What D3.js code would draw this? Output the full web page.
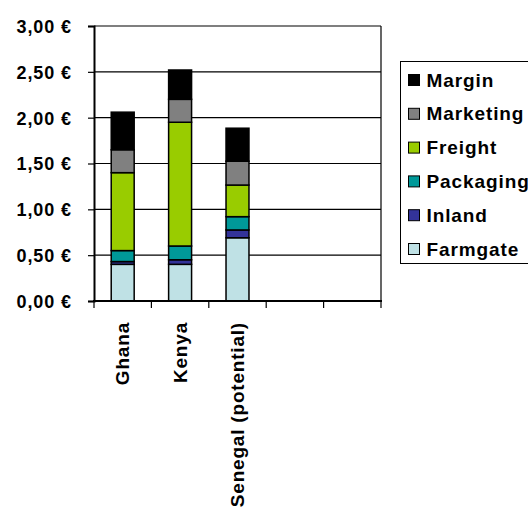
<!DOCTYPE html>
<html><head><meta charset="utf-8">
<script src="https://cdn.jsdelivr.net/npm/d3@7"></script>
<style>body{margin:0;background:#fff}svg{display:block}text{font-family:"Liberation Sans",Arial,sans-serif;font-weight:bold;fill:#000}</style>
</head><body>
<script>
const categories = ["Ghana", "Kenya", "Senegal (potential)", "", ""];
const seriesNames = ["Farmgate", "Inland", "Packaging", "Freight", "Marketing", "Margin"];
const farmgate  = [0.40, 0.40, 0.69];
const inland    = [0.03, 0.05, 0.085];
const packaging = [0.12, 0.15, 0.145];
const freight   = [0.85, 1.35, 0.345];
const marketing = [0.25, 0.25, 0.26];
const margin    = [0.41, 0.32, 0.36];
const yTicks = [0, 0.5, 1, 1.5, 2, 2.5, 3];
const yTickLabels = ["0,00 €", "0,50 €", "1,00 €", "1,50 €", "2,00 €", "2,50 €", "3,00 €"];
const colors = ["#BFE1E5", "#333399", "#009999", "#99CC00", "#808080", "#000000"];

const seriesValues = [farmgate, inland, packaging, freight, marketing, margin];
const W = 528, H = 509;
const svg = d3.select("body").append("svg").attr("width", W).attr("height", H);

const x = d3.scaleBand().domain(d3.range(categories.length)).range([94, 381]);
const y = d3.scaleLinear().domain([0, 3]).range([301, 26]);

// gridlines
svg.append("g").selectAll("line").data(yTicks.slice(1)).join("line")
  .attr("x1", 94).attr("x2", 381)
  .attr("y1", d => y(d)).attr("y2", d => y(d))
  .attr("stroke", "#000").attr("stroke-width", 1.2);
// right border
svg.append("line").attr("x1", 381).attr("x2", 381).attr("y1", 26).attr("y2", 301)
  .attr("stroke", "#000").attr("stroke-width", 1.2);

// stacked bars
const rows = d3.range(3).map(i => {
  const o = {idx: i};
  seriesNames.forEach((s, k) => o[s] = seriesValues[k][i]);
  return o;
});
const stack = d3.stack().keys(seriesNames)(rows);
const barW = x.bandwidth() * 0.4;
stack.forEach((layer, k) => {
  svg.append("g").selectAll("rect").data(layer).join("rect")
    .attr("x", d => x(d.data.idx) + (x.bandwidth() - barW) / 2)
    .attr("width", barW)
    .attr("y", d => y(d[1]))
    .attr("height", d => y(d[0]) - y(d[1]))
    .attr("fill", colors[k])
    .attr("stroke", "#000").attr("stroke-width", 1.5);
});

// y axis
const yAxis = svg.append("g").attr("transform", "translate(94,0)")
  .call(d3.axisLeft(y).tickValues(yTicks).tickSize(6).tickPadding(16)
    .tickFormat((d, i) => yTickLabels[i]));
yAxis.select(".domain").attr("stroke-width", 2);
yAxis.selectAll(".tick line").attr("stroke-width", 1.2);
yAxis.selectAll("text").attr("font-size", 18).attr("font-family", "Liberation Sans, Arial, sans-serif")
  .attr("font-weight", "bold").style("letter-spacing", "0.9px").attr("dy", "0.36em");

// x axis
const xAxis = svg.append("g").attr("transform", "translate(0,301)");
xAxis.append("line").attr("x1", 93).attr("x2", 382).attr("stroke", "#000").attr("stroke-width", 2);
const bounds = d3.range(categories.length + 1).map(i => 94 + i * x.step());
xAxis.selectAll(".xt").data(bounds).join("line").attr("class", "xt")
  .attr("x1", d => d).attr("x2", d => d).attr("y1", 0).attr("y2", 7)
  .attr("stroke", "#000").attr("stroke-width", 1.2);
xAxis.selectAll(".xl").data(categories).join("text").attr("class", "xl")
  .attr("transform", (d, i) => `translate(${x(i) + x.bandwidth() / 2 + 6.5},21) rotate(-90)`)
  .attr("text-anchor", "end")
  .attr("font-size", 19).style("letter-spacing", "0.8px")
  .text(d => d);

// legend
const lg = svg.append("g");
lg.append("rect").attr("x", 400.5).attr("y", 61.5).attr("width", 160).attr("height", 202)
  .attr("fill", "#fff").attr("stroke", "#000").attr("stroke-width", 1);
const legendOrder = seriesNames.map((s, k) => ({name: s, color: colors[k]})).reverse();
const items = lg.selectAll(".li").data(legendOrder).join("g").attr("class", "li")
  .attr("transform", (d, i) => `translate(0,${i * 33.8})`);
items.append("rect").attr("x", 408.5).attr("y", 74.5).attr("width", 11).attr("height", 11)
  .attr("fill", d => d.color).attr("stroke", "#000").attr("stroke-width", 1);
items.append("text").attr("x", 426.5).attr("y", 86.5)
  .attr("font-size", 19).style("letter-spacing", "0.9px").text(d => d.name);
</script>
</body></html>
